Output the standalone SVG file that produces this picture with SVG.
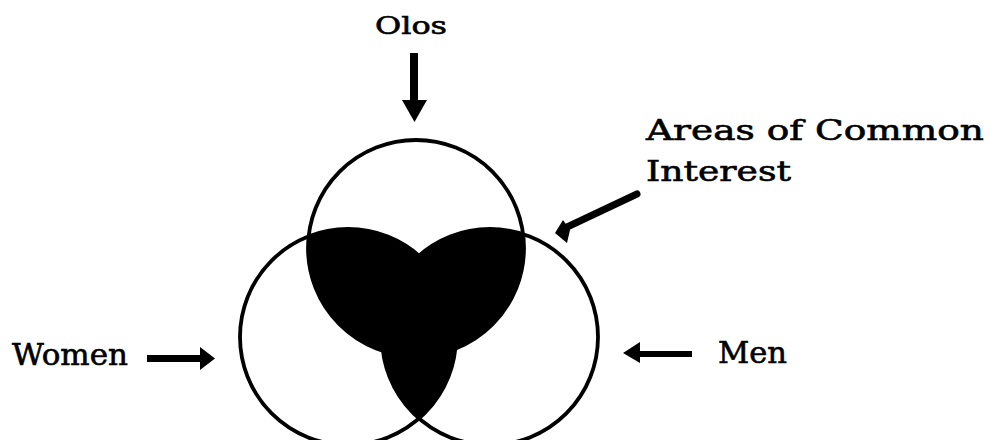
<svg xmlns="http://www.w3.org/2000/svg" width="989" height="440" viewBox="0 0 989 440">
<style>
  .lbl { font-family: "DejaVu Serif", "Liberation Serif", serif; fill: #000; stroke: #000; stroke-width: 0.6; }
  .ring { fill: none; stroke: #000; stroke-width: 3.8; }
  .shade { fill: #000; stroke: none; }
  .arr { fill: #000; stroke: none; }
</style>
<defs>
  <clipPath id="clipT"><circle cx="416" cy="248" r="108"/></clipPath>
  <clipPath id="clipR"><circle cx="490" cy="337" r="108"/></clipPath>
</defs>
<rect x="0" y="0" width="989" height="440" fill="#fff"/>
<g id="overlap">
  <circle class="shade" cx="348" cy="337" r="108" clip-path="url(#clipT)"/>
  <circle class="shade" cx="490" cy="337" r="108" clip-path="url(#clipT)"/>
  <circle class="shade" cx="348" cy="337" r="108" clip-path="url(#clipR)"/>
</g>
<g id="olos">
  <circle class="ring" cx="416" cy="248" r="108"/>
  <text class="lbl" x="375" y="34" font-size="24" textLength="72" lengthAdjust="spacingAndGlyphs">Olos</text>
</g>
<g id="women">
  <circle class="ring" cx="348" cy="337" r="108"/>
  <text class="lbl" x="12" y="365" font-size="29" textLength="116" lengthAdjust="spacingAndGlyphs">Women</text>
</g>
<g id="men">
  <circle class="ring" cx="490" cy="337" r="108"/>
  <text class="lbl" x="718" y="363" font-size="29" textLength="69" lengthAdjust="spacingAndGlyphs">Men</text>
</g>
<g id="common">
  <text class="lbl" x="646" y="140" font-size="28" textLength="338" lengthAdjust="spacingAndGlyphs">Areas of Common</text>
  <text class="lbl" x="646" y="181" font-size="28" textLength="145" lengthAdjust="spacingAndGlyphs">Interest</text>
</g>
<g id="connectors">
  <polygon class="arr" points="410,53 418,53 418,100 427,100 414.5,122 402,100 410,100"/>
  <polygon class="arr" points="147,355 200,355 200,347 215,358.5 200,370 200,362 147,362"/>
  <polygon class="arr" points="692,351 640,351 640,342 623,353 640,363 640,357 692,357"/>
  <line x1="565" y1="228" x2="637" y2="194" stroke="#000" stroke-width="7" stroke-linecap="round"/>
  <polygon class="arr" points="555,233 563,220 570,230 567,243"/>
</g>
</svg>
